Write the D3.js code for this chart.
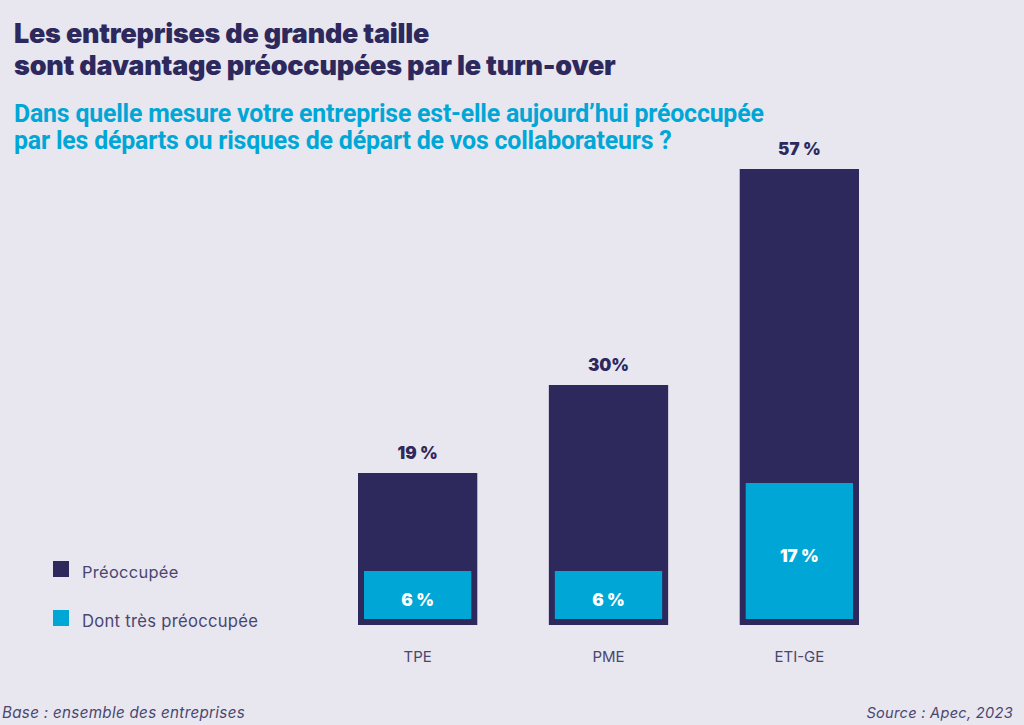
<!DOCTYPE html>
<html><head><meta charset="utf-8">
<script src="https://cdn.jsdelivr.net/npm/d3@7"></script>
<style>
html,body{margin:0;padding:0;background:#e8e6ef;}
svg{display:block;}
</style></head>
<body>
<svg id="chart" width="1024" height="725"></svg>
<script>
const categories = ["TPE", "PME", "ETI-GE"];
const preoccupee = [19, 30, 57];
const tresPreoccupee = [6, 6, 17];
const topLabels = ["19 %", "30%", "57 %"];
const innerLabels = ["6 %", "6 %", "17 %"];
const legendLabels = ["Préoccupée", "Dont très préoccupée"];
const titleLines = ["Les entreprises de grande taille", "sont davantage préoccupées par le turn-over"];
const subtitleLines = ["Dans quelle mesure votre entreprise est-elle aujourd’hui préoccupée", "par les départs ou risques de départ de vos collaborateurs ?"];
const footLeft = "Base : ensemble des entreprises";
const footRight = "Source : Apec, 2023";

const NAVY = "#2e295c", CYAN = "#00a7d6", BG = "#e8e6ef", GREY = "#4a4670";
const svg = d3.select("#chart");
svg.append("rect").attr("width", 1024).attr("height", 725).attr("fill", BG);

function fitText(sel, w) {
  const n = sel.node(); const l = n.getComputedTextLength();
  if (l > 0) { const fs = parseFloat(sel.attr("font-size")); sel.attr("font-size", fs * w / l); }
}

// Title
const titleW = [414, 600];
titleLines.forEach((t, i) => {
  const s = svg.append("text").attr("x", 14).attr("y", 43 + i * 32)
    .attr("font-family", "Inter, 'Open Sans', sans-serif").attr("font-weight", 900)
    .attr("font-size", 22).attr("fill", NAVY).attr("letter-spacing", -0.2).text(t);
  fitText(s, titleW[i]);
});
const subW = [746, 654];
subtitleLines.forEach((t, i) => {
  const s = svg.append("text").attr("x", 14).attr("y", 122 + i * 27)
    .attr("font-family", "Roboto, 'Open Sans', sans-serif").attr("font-weight", 700)
    .attr("font-size", 19).attr("fill", CYAN).attr("letter-spacing", -0.2).text(t);
  fitText(s, subW[i]);
});

const x = d3.scaleBand().domain(categories).range([358, 859]).paddingInner(0.375).paddingOuter(0);
const y = d3.scaleLinear().domain([0, 60]).range([625, 145]);
const inset = 6;

const g = svg.append("g");
g.selectAll("rect.outer").data(categories).join("rect").attr("class", "outer")
  .attr("x", d => x(d)).attr("width", x.bandwidth())
  .attr("y", (d, i) => y(preoccupee[i])).attr("height", (d, i) => y(0) - y(preoccupee[i]))
  .attr("fill", NAVY);
g.selectAll("rect.inner").data(categories).join("rect").attr("class", "inner")
  .attr("x", d => x(d) + inset).attr("width", x.bandwidth() - 2 * inset)
  .attr("y", (d, i) => y(tresPreoccupee[i]) - inset).attr("height", (d, i) => y(0) - y(tresPreoccupee[i]))
  .attr("fill", CYAN);
g.selectAll("text.top").data(categories).join("text").attr("class", "top")
  .attr("x", d => x(d) + x.bandwidth() / 2).attr("y", (d, i) => y(preoccupee[i]) - 14)
  .attr("text-anchor", "middle").attr("font-family", "Inter, sans-serif").attr("font-weight", 900)
  .attr("font-size", 17).attr("fill", NAVY).text((d, i) => topLabels[i]);
g.selectAll("text.in").data(categories).join("text").attr("class", "in")
  .attr("x", d => x(d) + x.bandwidth() / 2)
  .attr("y", (d, i) => (y(tresPreoccupee[i]) - inset + y(0) - inset) / 2 + 11)
  .attr("text-anchor", "middle").attr("font-family", "Inter, sans-serif").attr("font-weight", 900)
  .attr("font-size", 17).attr("fill", "#ffffff").text((d, i) => innerLabels[i]);

// x axis labels
const xa = svg.append("g").attr("transform", "translate(0,625)")
  .call(d3.axisBottom(x).tickSize(0).tickPadding(26));
xa.select(".domain").remove();
xa.selectAll("text").attr("font-family", "Inter, sans-serif").attr("font-size", 15)
  .attr("fill", GREY).attr("font-weight", 400);

// legend
const lc = [NAVY, CYAN];
const legW = [97, 177];
legendLabels.forEach((t, i) => {
  svg.append("rect").attr("x", 53).attr("y", 561 + i * 49).attr("width", 16).attr("height", 16).attr("fill", lc[i]);
  const s = svg.append("text").attr("x", 82).attr("y", 578 + i * 49).attr("font-family", "Inter, sans-serif")
    .attr("font-size", 15).attr("letter-spacing", 0.3).attr("fill", GREY).text(t);
  fitText(s, legW[i]);
});

// footer
const fl = svg.append("text").attr("x", 2).attr("y", 718).attr("font-family", "Inter, sans-serif").attr("font-style", "italic")
  .attr("font-size", 14).attr("letter-spacing", 0.3).attr("fill", GREY).text(footLeft);
fitText(fl, 244);
const fr = svg.append("text").attr("x", 1013).attr("y", 718).attr("text-anchor", "end").attr("font-family", "Inter, sans-serif").attr("font-style", "italic")
  .attr("font-size", 14).attr("letter-spacing", 0.3).attr("fill", GREY).text(footRight);
fitText(fr, 147);
</script>
</body></html>
